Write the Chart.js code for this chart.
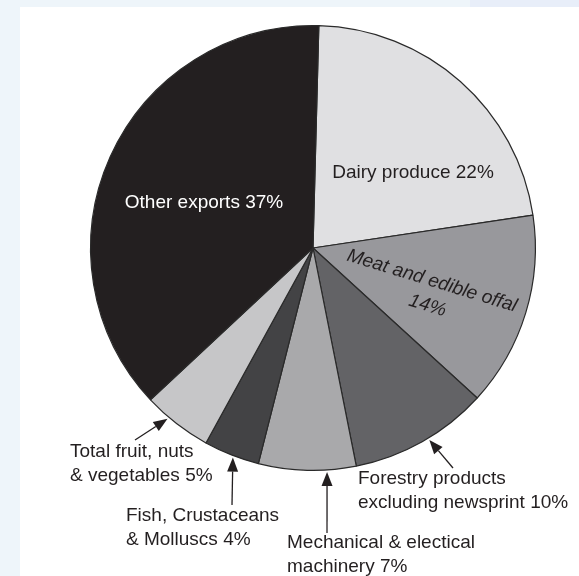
<!DOCTYPE html>
<html>
<head>
<meta charset="utf-8">
<title>Exports pie</title>
<script src="https://cdn.jsdelivr.net/npm/chart.js@4/dist/chart.umd.min.js"></script>
<style>
    html, body {
        margin: 0;
        padding: 0;
        width: 579px;
        height: 576px;
        overflow: hidden;
        background: #eef5fa;
    }

    .patch {
        position: absolute;
        left: 470px;
        top: 0;
        width: 109px;
        height: 7px;
        background: #e8eef9;
    }

    .panel {
        position: absolute;
        left: 20px;
        top: 7px;
        right: 0;
        bottom: 0;
        background: #ffffff;
    }

    #exportsChart {
        position: absolute;
        left: 0;
        top: 0;
    }
</style>
</head>
<body>

<div class="patch"></div>
<div class="panel"></div>
<canvas id="exportsChart" width="579" height="576"></canvas>

<script>

const categories = [
    "Dairy produce",
    "Meat and edible offal",
    "Forestry products excluding newsprint",
    "Mechanical & electical machinery",
    "Fish, Crustaceans & Molluscs",
    "Total fruit, nuts & vegetables",
    "Other exports"
];

const shares = [22, 14, 10, 7, 4, 5, 37];

const sliceColors = ["#e0e0e2", "#98989c", "#636366", "#a9a9ab", "#434345", "#c6c6c8", "#231f20"];

const labelLines = [
    ["Dairy produce 22%"],
    ["Meat and edible offal", "14%"],
    ["Forestry products", "excluding newsprint 10%"],
    ["Mechanical & electical", "machinery 7%"],
    ["Fish, Crustaceans", "& Molluscs 4%"],
    ["Total fruit, nuts", "& vegetables 5%"],
    ["Other exports 37%"]
];

// where each label sits, relative to the pie centre
const insideLabels = {
    0: { dx: 100, dy: -75, color: "#231f20" },
    6: { dx: -109, dy: -45, color: "#ffffff" }
};

const meatLabel = { index: 1, dx: 119, dy: 33, lineGap: 25, angle: 17, secondX: 3 };

// t = position of the arrow head along the slice edge
const callouts = [
    { index: 2, t: 0.45, tail: [140, 220], textX: 45, textY: 231 },
    { index: 3, t: 0.30, tail: [14, 285], textX: -26, textY: 295 },
    { index: 4, t: 0.46, tail: [-81, 257], textX: -187, textY: 268 },
    { index: 5, t: 0.64, tail: [-178, 192], textX: -243, textY: 204 }
];

const font = "19px 'Liberation Sans', Arial, sans-serif";
const ink = "#231f20";


function drawArrow(ctx, x1, y1, x2, y2) {

    const ang = Math.atan2(y2 - y1, x2 - x1);
    const len = 14;
    const half = 5.5;

    ctx.strokeStyle = ink;
    ctx.fillStyle = ink;
    ctx.lineWidth = 1.3;

    ctx.beginPath();
    ctx.moveTo(x1, y1);
    ctx.lineTo(x2 - Math.cos(ang) * len, y2 - Math.sin(ang) * len);
    ctx.stroke();

    ctx.beginPath();
    ctx.moveTo(x2, y2);
    ctx.lineTo(x2 - Math.cos(ang) * len - Math.sin(ang) * half, y2 - Math.sin(ang) * len + Math.cos(ang) * half);
    ctx.lineTo(x2 - Math.cos(ang) * len + Math.sin(ang) * half, y2 - Math.sin(ang) * len - Math.cos(ang) * half);
    ctx.closePath();
    ctx.fill();

}


const sliceLabels = {

    id: "sliceLabels",

    afterDatasetsDraw(chart) {

        const ctx = chart.ctx;
        const arcs = chart.getDatasetMeta(0).data;
        const cx = arcs[0].x;
        const cy = arcs[0].y;

        ctx.save();
        ctx.font = font;
        ctx.textBaseline = "middle";

        // labels inside the slices
        Object.keys(insideLabels).forEach((key) => {

            const lab = insideLabels[key];

            ctx.fillStyle = lab.color;
            ctx.textAlign = "center";
            ctx.fillText(labelLines[key][0], cx + lab.dx, cy + lab.dy);

        });

        // tilted meat label
        ctx.save();
        ctx.translate(cx + meatLabel.dx, cy + meatLabel.dy);
        ctx.rotate(meatLabel.angle * Math.PI / 180);
        ctx.font = "italic " + font;
        ctx.fillStyle = ink;
        ctx.textAlign = "center";
        ctx.fillText(labelLines[meatLabel.index][0], 0, 0);
        ctx.fillText(labelLines[meatLabel.index][1], meatLabel.secondX, meatLabel.lineGap);
        ctx.restore();

        // callouts with arrows
        callouts.forEach((c) => {

            const arc = arcs[c.index];
            const a = arc.startAngle + (arc.endAngle - arc.startAngle) * c.t;
            const r = arc.outerRadius + 2;

            drawArrow(ctx, cx + c.tail[0], cy + c.tail[1], cx + Math.cos(a) * r, cy + Math.sin(a) * r);

            ctx.fillStyle = ink;
            ctx.textAlign = "left";

            labelLines[c.index].forEach((line, i) => {
                ctx.fillText(line, cx + c.textX, cy + c.textY + i * 24);
            });

        });

        ctx.restore();

    }

};


const ctx = document.getElementById("exportsChart").getContext("2d");

new Chart(ctx, {

    type: "pie",

    data: {
        labels: categories,
        datasets: [{
            data: shares,
            backgroundColor: sliceColors,
            borderColor: "#2a2a2a",
            borderWidth: 1.2
        }]
    },

    options: {

        responsive: false,
        animation: false,
        rotation: 1.5,

        layout: {
            padding: { left: 90, right: 43, top: 25, bottom: 105 }
        },

        plugins: {
            legend: { display: false },
            tooltip: { enabled: false }
        }

    },

    plugins: [sliceLabels]

});

</script>
</body>
</html>
